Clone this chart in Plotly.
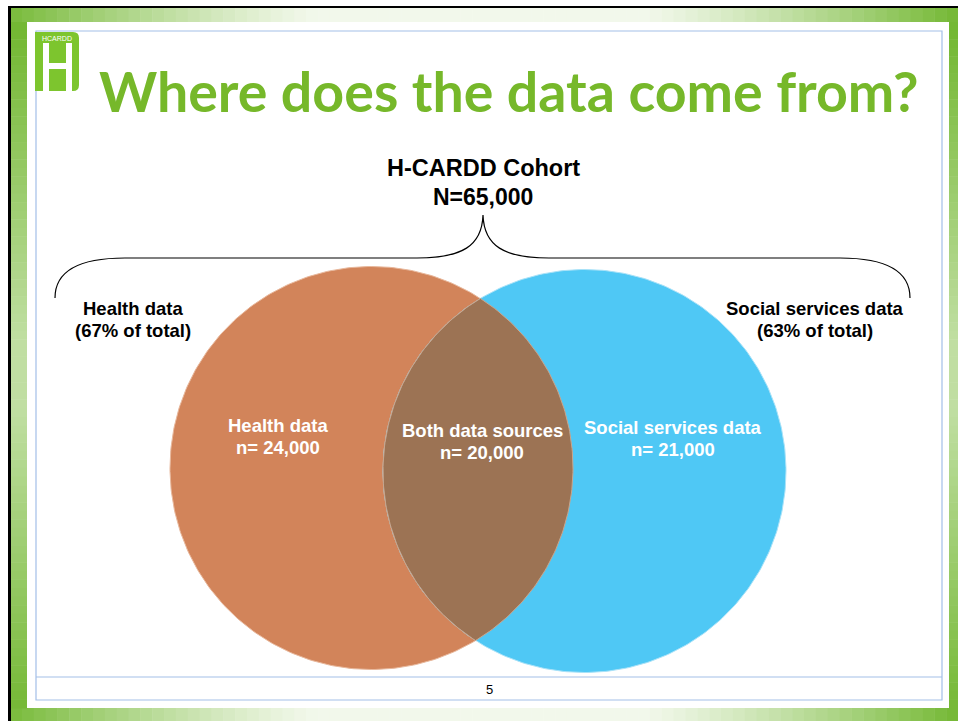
import numpy as np
import plotly.graph_objects as go

# ---------------- data ----------------
cohort_name = "H-CARDD Cohort"
cohort_total = 65000
set_names = ["Health data", "Social services data"]
only_counts = [24000, 21000]
both_label = "Both data sources"
both_count = 20000
set_pct = [67, 63]
slide_title = "Where does the data come from?"
page_number = "5"

# ---------------- style ----------------
W, H = 958, 721
ORANGE = "#D2845A"
BLUE = "#4FC8F5"
OVERLAP = "#9C7354"
TITLE_GREEN = "#76B82A"
FRAME_BLUE = "#A3BFE8"
DARK_G = np.array([116, 184, 52])
LIGHT_G = np.array([242, 248, 235])

def mix(w):
    c = LIGHT_G + (DARK_G - LIGHT_G) * w
    return "rgb(%d,%d,%d)" % tuple(int(round(v)) for v in c)

shapes = []

def rect(x0, y0, x1, y1, color, line=None, layer="below"):
    d = dict(type="rect", xref="x", yref="y", x0=x0, y0=y0, x1=x1, y1=y1,
             fillcolor=color, layer=layer, line=dict(width=0))
    if line:
        d["line"] = line
        d["fillcolor"] = "rgba(0,0,0,0)"
    shapes.append(d)

# green gradient frame
N = 80
def w_horiz(t):
    return float(np.clip((abs(t - 0.5) - 0.17) / 0.33, 0, 1)) ** 1.2
def w_vert(t):
    return 0.4 + 0.6 * float(np.clip((abs(t - 0.52) - 0.05) / 0.42, 0, 1))

xs = np.linspace(10, W, N + 1)
for i in range(N):
    t = (xs[i] + xs[i + 1]) / 2 / W
    c = mix(w_horiz(t))
    rect(xs[i], 7, xs[i + 1] + 0.5, 23, c)
    rect(xs[i], 707, xs[i + 1] + 0.5, H, c)
ys = np.linspace(22, 708, N + 1)
for i in range(N):
    t = (ys[i] + ys[i + 1]) / 2 / H
    c = mix(w_vert(t))
    rect(10, ys[i], 28, ys[i + 1] + 0.5, c)
    rect(948, ys[i], W, ys[i + 1] + 0.5, c)
# black edges
rect(9, 6, W, 8, "black")
rect(8, 6, 11, H, "black")
# slide white
rect(27, 22, 949, 708, "white")
# blue frames
rect(36, 31, 942, 700, None, line=dict(color=FRAME_BLUE, width=1.2))
shapes.append(dict(type="line", xref="x", yref="y", x0=36, x1=942, y0=677, y1=677,
                   line=dict(color=FRAME_BLUE, width=1.2), layer="below"))

# logo
shapes.append(dict(type="path", xref="x", yref="y", layer="above",
                   path="M 35,32 L 73,32 Q 79,32 79,38 L 79,85 Q 79,91 73,91 L 35,91 Z",
                   fillcolor="#7DC52E", line=dict(width=0)))
rect(43, 43, 49, 91, "white", layer="above")
rect(66, 43, 72, 91, "white", layer="above")
rect(49, 63, 66, 69, "white", layer="above")

# brace
shapes.append(dict(type="path", xref="x", yref="y", layer="above",
                   path=("M 55,298 C 55,272 78,258 125,258 L 417,258 "
                         "C 462,258 482,246 483,215 C 484,246 504,258 549,258 "
                         "L 840,258 C 887,258 910,272 910,298"),
                   line=dict(color="black", width=1.2)))

fig = go.Figure()

# circles
cA = (371.5, 468.0); cB = (584.5, 471.0); R = 201.5
th = np.linspace(0, 2 * np.pi, 361)
for (cx, cy), col, edge in [(cA, ORANGE, "#E8B89C"), (cB, BLUE, "#A9E2F8")]:
    fig.add_trace(go.Scatter(x=cx + R * np.cos(th), y=cy + R * np.sin(th),
                             mode="lines", fill="toself", fillcolor=col,
                             line=dict(color=edge, width=1), hoverinfo="skip"))

# lens (overlap)
dx, dy = cB[0] - cA[0], cB[1] - cA[1]
d = np.hypot(dx, dy)
a = d / 2
h = np.sqrt(R ** 2 - a ** 2)
mx, my = cA[0] + dx / 2, cA[1] + dy / 2
p1 = (mx - h * dy / d, my + h * dx / d)
p2 = (mx + h * dy / d, my - h * dx / d)
def arc(c, pa, pb):
    a0 = np.arctan2(pa[1] - c[1], pa[0] - c[0])
    a1 = np.arctan2(pb[1] - c[1], pb[0] - c[0])
    if a1 < a0:
        a1 += 2 * np.pi
    if a1 - a0 > np.pi:
        a0, a1 = a1, a0 + 2 * np.pi
        ang = np.linspace(a0, a1, 120)[::-1]
    else:
        ang = np.linspace(a0, a1, 120)
    return c[0] + R * np.cos(ang), c[1] + R * np.sin(ang)
ax1, ay1 = arc(cA, p2, p1)
ax2, ay2 = arc(cB, p1, p2)
lx = np.concatenate([ax1, ax2]); ly = np.concatenate([ay1, ay2])
fig.add_trace(go.Scatter(x=lx, y=ly, mode="lines", fill="toself", fillcolor=OVERLAP,
                         line=dict(color="#C9A58C", width=1), hoverinfo="skip"))

ann = []
def text(x, y, s, size, color="black", family="Liberation Sans", bold=True):
    ann.append(dict(x=x, y=y, xref="x", yref="y", text=(f"<b>{s}</b>" if bold else s),
                    showarrow=False, xanchor="center", yanchor="middle",
                    font=dict(size=size, color=color, family=family)))

text(509, 90, slide_title, 55.5, TITLE_GREEN, "Lato")
text(483, 168, cohort_name, 23.5)
text(483, 197, f"N={cohort_total:,}", 23)
text(133, 308, set_names[0], 18.5)
text(133, 330, f"({set_pct[0]}% of total)", 18.5)
text(815, 308, set_names[1], 18.5)
text(815, 330, f"({set_pct[1]}% of total)", 18.5)
text(278, 425, set_names[0], 18.5, "white")
text(278, 447, f"n= {only_counts[0]:,}", 18.5, "white")
text(482, 430, both_label, 18.5, "white")
text(482, 452, f"n= {both_count:,}", 18.5, "white")
text(673, 427, set_names[1], 18.5, "white")
text(673, 449, f"n= {only_counts[1]:,}", 18.5, "white")
text(489, 689, page_number, 13, "black", "Liberation Sans", bold=False)
ann.append(dict(x=57, y=38, xref="x", yref="y", text="HCARDD", showarrow=False,
                xanchor="center", yanchor="middle",
                font=dict(size=7, color="white", family="Liberation Sans")))

fig.update_layout(
    width=W, height=H, margin=dict(l=0, r=0, t=0, b=0),
    paper_bgcolor="white", plot_bgcolor="white", showlegend=False,
    xaxis=dict(range=[0, W], visible=False, fixedrange=True),
    yaxis=dict(range=[H, 0], visible=False, fixedrange=True),
    shapes=shapes, annotations=ann,
)
fig.write_html("out.html", config={"displayModeBar": False},
               post_script="document.body.style.margin='0';document.body.style.overflow='hidden';")
